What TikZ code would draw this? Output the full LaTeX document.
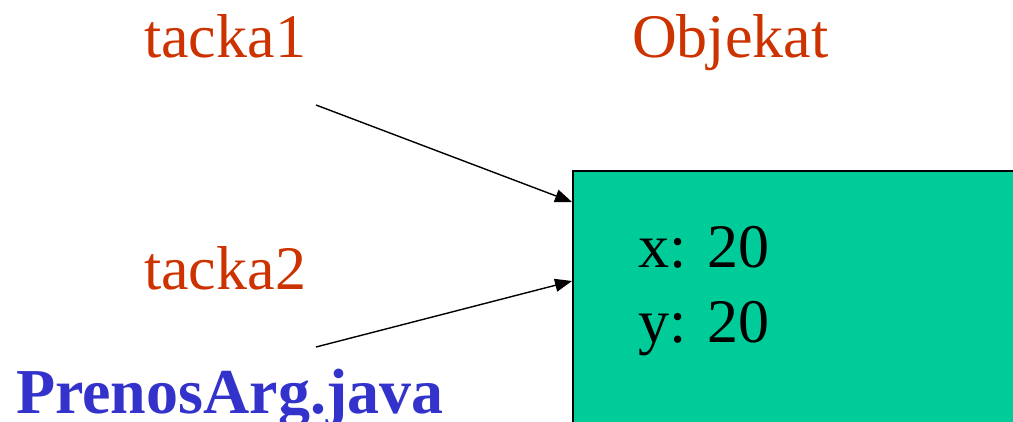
\documentclass[tikz,border=0pt]{standalone}
\usepackage{fontspec}
\setmainfont{Liberation Serif}
\usetikzlibrary{arrows.meta}
\definecolor{lblred}{HTML}{CC3300}
\definecolor{boxgreen}{HTML}{00CC99}
\definecolor{fileblue}{HTML}{3333CC}
\tikzset{
  lbl/.style={anchor=base west, inner sep=0pt, text=lblred, font=\fontsize{62}{70}\selectfont},
  field/.style={anchor=base west, inner sep=0pt, text=black, font=\fontsize{62}{72}\selectfont},
  fname/.style={anchor=base west, inner sep=0pt, text=fileblue, font=\bfseries\fontsize{64}{72}\selectfont},
  objbox/.style={draw=black, line width=2pt, fill=boxgreen, anchor=north west, minimum width=480pt, minimum height=300pt, inner sep=0pt},
  ref/.style={line width=1.4pt, -{Triangle[length=17pt,width=13pt]}}
}
\begin{document}
\begin{tikzpicture}[x=1pt,y=-1pt]
\useasboundingbox (0,0) rectangle (1013,421);
\clip (0,0) rectangle (1013,421);
\node[objbox] (obj) at (572,170) {};
\node[lbl] (t1) at (144,57) {tacka1};
\node[lbl] (ob) at (632,57) {Objekat};
\node[lbl] (t2) at (144,289) {tacka2};
\node[field] (fx) at (638,267) {x: 20};
\node[field] (fy) at (638,342) {y: 20};
\node[fname] (fn) at (16,413) {PrenosArg.java};
\coordinate (s1) at (316,105);
\coordinate (s2) at (316,347);
\coordinate (e1) at (572,202);
\coordinate (e2) at (572,281);
\draw[ref] (s1) -- (e1);
\draw[ref] (s2) -- (e2);
\end{tikzpicture}
\end{document}
